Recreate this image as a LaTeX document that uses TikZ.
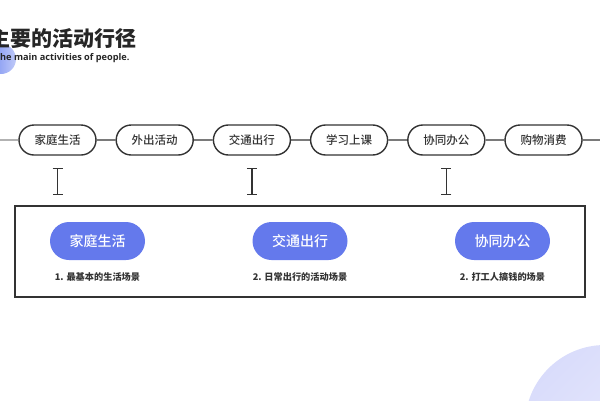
\documentclass[tikz,border=0pt]{standalone}
\usepackage{fontspec}
\newfontfamily\cjk{Noto Sans CJK SC}
\newfontfamily\cjkmid{Noto Sans CJK SC Medium}
\newfontfamily\latin{Open Sans}
\usepackage{tikz}
\usetikzlibrary{positioning}
\usetikzlibrary{calc, shapes.misc, arrows.meta}
\definecolor{ink}{HTML}{333333}
\definecolor{pillblue}{HTML}{6479EC}
\definecolor{dotblue}{HTML}{7188F0}
\definecolor{lavender}{HTML}{D9DCFB}

\begin{document}
\begin{tikzpicture}
[
	x=1pt, y=-1pt,
	node distance = 18.8pt,
	stage/.style={draw=ink, line width=1.4pt, rounded rectangle, minimum width=77pt, minimum height=30pt, inner sep=0pt, fill=white, font=\cjkmid\fontsize{11.5}{12}\selectfont, text=ink},
	track/.style={draw=ink, line width=1.4pt},
	marker/.style={draw=ink, line width=1.2pt, {Bar[width=10pt]}-{Bar[width=10pt]}},
	scene/.style={rounded rectangle, fill=pillblue, minimum width=95pt, minimum height=38pt, inner sep=0pt, text=white, font=\cjkmid\fontsize{14}{15}\selectfont},
	sceneT/.style={font=\cjk\bfseries\fontsize{9.2}{10}\selectfont, text=ink, inner sep=0pt}
  ]
	\useasboundingbox (0,0) rectangle (600,400);
	\shade[left color=dotblue, right color=dotblue!45] (1,59) circle (15pt);
	\shade[left color=lavender, right color=lavender!50, shading angle=45] (605,425) circle (80pt);

	\node[anchor=west, font=\cjk\bfseries\fontsize{21}{22}\selectfont, text=black!85, inner sep=0pt] (Title) at (-11,38) {主要的活动行径};
	\node[anchor=west, font=\latin\bfseries\fontsize{9.2}{10}\selectfont, text=black!85, inner sep=0pt] (Sub) at (0,58) {he main activities of people.};

	\coordinate (LineL) at (0,140);
	\coordinate (LineR) at (600,140);
	\node[stage] (Home) at (57.5,140) {家庭生活};
	\node[stage, right=of Home] (Out) {外出活动};
	\node[stage, right=of Out] (Traffic) {交通出行};
	\node[stage, right=of Traffic] (Study) {学习上课};
	\node[stage, right=of Study] (Office) {协同办公};
	\node[stage, right=of Office] (Shop) {购物消费};

	\draw[track, draw=black!30] (LineL) -- (Home);
	\foreach \a/\b in {Home/Out, Out/Traffic, Traffic/Study, Study/Office, Office/Shop, Shop/LineR}
		\draw[track] (\a) -- (\b);

	\foreach \s in {Home, Traffic, Office}
		\draw[marker] ($(\s.south)+(0,12)$) -- ($(\s.south)+(0,39)$);

	\draw[draw=ink, line width=1.4pt] (15,206) rectangle (585,297);

	\node[scene] (SHome) at (97.5,241) {家庭生活};
	\node[scene] (STraffic) at (300,241) {交通出行};
	\node[scene] (SOffice) at (502.5,241) {协同办公};

	\node[sceneT, below=12pt of SHome] (CHome) {1. 最基本的生活场景};
	\node[sceneT, below=12pt of STraffic] (CTraffic) {2. 日常出行的活动场景};
	\node[sceneT, below=12pt of SOffice] (COffice) {2. 打工人搞钱的场景};
\end{tikzpicture}
\end{document}
